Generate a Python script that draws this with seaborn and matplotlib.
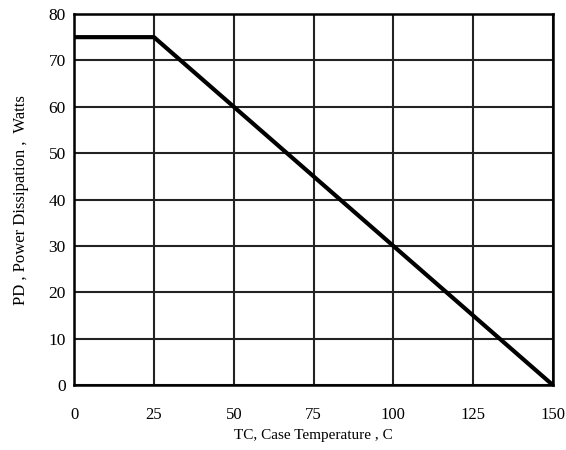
import matplotlib
matplotlib.use("Agg")
import matplotlib.pyplot as plt
import seaborn as sns
import pandas as pd

case_temp = [0, 25, 150]
power_diss = [75, 75, 0]
x_ticks = [0, 25, 50, 75, 100, 125, 150]
y_ticks = [0, 10, 20, 30, 40, 50, 60, 70, 80]

sns.set_theme(style="white")
plt.rcParams['font.family'] = ['Liberation Serif', 'DejaVu Serif']

df = pd.DataFrame({"TC": case_temp, "PD": power_diss})

fig = plt.figure(figsize=(5.66, 4.5), dpi=100)
ax = fig.add_axes([0.131, 0.144, 0.846, 0.825])
sns.lineplot(data=df, x="TC", y="PD", color="black", linewidth=3, ax=ax, zorder=3)

ax.set_xlim(0, 150)
ax.set_ylim(0, 80)
ax.set_xticks(x_ticks)
ax.set_yticks(y_ticks)
ax.grid(True, color="#222222", linewidth=1.5)
for s in ax.spines.values():
    s.set_color("black")
    s.set_linewidth(1.8)
ax.tick_params(axis="x", length=0, pad=16, labelsize=12, colors="black")
ax.tick_params(axis="y", length=0, pad=6, labelsize=12.5, colors="black")
ax.set_xlabel("TC, Case Temperature , C", fontsize=11, color="black", labelpad=4)
ax.set_ylabel("PD , Power Dissipation ,  Watts", fontsize=12, color="black", labelpad=14)

fig.savefig("out.png", dpi=100)
